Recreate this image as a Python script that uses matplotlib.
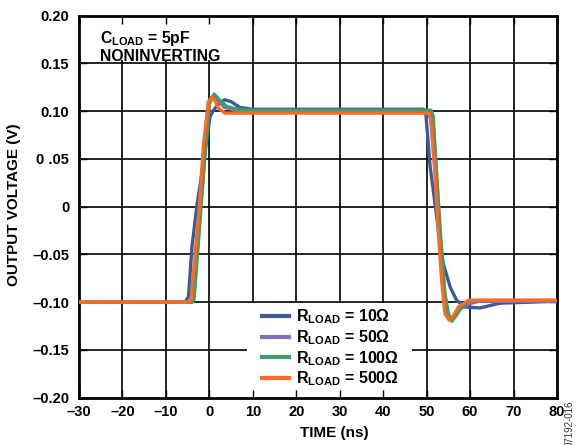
import matplotlib
matplotlib.use('Agg')
import matplotlib.pyplot as plt
from matplotlib.patches import Rectangle

plt.rcParams['font.family'] = ['Liberation Sans', 'DejaVu Sans']
plt.rcParams['font.weight'] = 'bold'
plt.rcParams['mathtext.fontset'] = 'custom'
plt.rcParams['mathtext.rm'] = 'Liberation Sans:bold'
plt.rcParams['mathtext.it'] = 'Liberation Sans:bold'
plt.rcParams['mathtext.bf'] = 'Liberation Sans:bold'

# traces (time in ns, volts)
t_10 = [-30, -5.6, -4.8, -4.0, -2.9, -1.4, -0.6, 0.15, 0.8, 2.0, 3.5, 5.0, 7.0, 10, 49.4,
        49.8, 50.8, 51.5, 52.7, 53.8, 55.4, 56.9, 58.8, 62.3, 66.9, 80]
v_10 = [-0.100, -0.100, -0.094, -0.042, 0.000, 0.045, 0.070, 0.094, 0.100, 0.107, 0.112, 0.110, 0.104, 0.102, 0.102,
        0.098, 0.042, 0.018, -0.024, -0.059, -0.084, -0.098, -0.105, -0.106, -0.101, -0.099]

t_50 = [-30, -4.0, -3.6, -2.0, -1.0, -0.1, 0.9, 2.0, 3.5, 6.0, 10, 50.9,
        51.4, 52.3, 53.2, 54.1, 54.8, 55.6, 56.5, 57.8, 59.5, 62.0, 80]
v_50 = [-0.100, -0.100, -0.096, 0.000, 0.060, 0.108, 0.116, 0.111, 0.104, 0.101, 0.100, 0.100,
        0.094, 0.030, -0.035, -0.090, -0.112, -0.117, -0.113, -0.107, -0.102, -0.099, -0.099]

t_100 = [-30, -3.9, -3.5, -1.9, -0.9, 0.0, 1.1, 2.3, 4.0, 6.5, 10, 51.0,
         51.5, 52.3, 53.2, 54.2, 55.0, 55.8, 56.8, 58.0, 59.7, 62.0, 80]
v_100 = [-0.100, -0.100, -0.096, 0.000, 0.060, 0.108, 0.118, 0.112, 0.105, 0.102, 0.101, 0.101,
         0.095, 0.035, -0.030, -0.090, -0.112, -0.120, -0.114, -0.105, -0.099, -0.098, -0.098]

t_500 = [-30, -4.6, -4.2, -2.3, -1.4, -0.24, 0.54, 1.3, 2.1, 3.6, 10, 50.4,
         50.9, 51.9, 52.7, 53.5, 54.2, 55.2, 56.2, 57.3, 59.6, 62.0, 80]
v_500 = [-0.100, -0.100, -0.096, 0.000, 0.063, 0.110, 0.115, 0.111, 0.103, 0.098, 0.098, 0.098,
         0.092, 0.035, -0.028, -0.080, -0.112, -0.119, -0.114, -0.105, -0.098, -0.098, -0.098]

labels = [r'$\mathrm{R_{LOAD}}$ = 10Ω', r'$\mathrm{R_{LOAD}}$ = 50Ω',
          r'$\mathrm{R_{LOAD}}$ = 100Ω', r'$\mathrm{R_{LOAD}}$ = 500Ω']
colors = ['#3d5a98', '#8a6cb8', '#3e9e6e', '#ff6a21']

x_ticks = [-30, -20, -10, 0, 10, 20, 30, 40, 50, 60, 70, 80]
x_ticklabels = ['–30', '–20', '–10', '0', '10', '20', '30', '40', '50', '60', '70', '80']
y_ticks = [-0.20, -0.15, -0.10, -0.05, 0, 0.05, 0.10, 0.15, 0.20]
y_ticklabels = ['–0.20', '–0.15', '–0.10', '–0.05', '0', '0 .05', '0.10', '0.15', '0.20']

fig = plt.figure(figsize=(5.82, 4.45), dpi=100)
ax = fig.add_axes([79 / 582, 1 - 397.7 / 445, 478 / 582, 382 / 445])

for x in x_ticks[1:-1]:
    ax.axvline(x, color='black', lw=1.2, zorder=1)
for y in y_ticks[1:-1]:
    ax.axhline(y, color='black', lw=1.2, zorder=1)

series = [(t_10, v_10), (t_50, v_50), (t_100, v_100), (t_500, v_500)]
for (t, v), lab, c in zip(series, labels, colors):
    ax.plot(t, v, color=c, lw=2.4, label=lab, zorder=3, solid_joinstyle='round')

ax.set_xlim(-30, 80)
ax.set_ylim(-0.20, 0.20)
ax.set_xticks(x_ticks)
ax.set_xticklabels(x_ticklabels)
ax.set_yticks(y_ticks)
ax.set_yticklabels(y_ticklabels)
ax.tick_params(direction='in', length=6, width=1, top=True, right=True, labelsize=10.5, color='black')
ax.tick_params(axis='x', pad=5)
ax.tick_params(axis='y', pad=7)
ax.set_axisbelow(False)
for s in ax.spines.values():
    s.set_linewidth(2)

# white boxes under the annotation and the legend
ax.add_patch(Rectangle((0.0335, 0.884), 0.276, 0.12, transform=ax.transAxes,
                       facecolor='white', edgecolor='none', zorder=2))
ax.add_patch(Rectangle((0.351, 0.0), 0.346, 0.248, transform=ax.transAxes,
                       facecolor='white', edgecolor='none', zorder=2))

ax.text(0.044, 0.965, r'$\mathrm{C_{LOAD}}$ = 5pF' + '\nNONINVERTING', transform=ax.transAxes,
        fontsize=11.3, fontweight='bold', va='top', ha='left', linespacing=1.05, zorder=4)

leg = ax.legend(loc='upper left', bbox_to_anchor=(0.38, 0.24), frameon=False, fontsize=11.5,
                handlelength=1.7, handletextpad=0.4, labelspacing=0.12, borderpad=0.1,
                borderaxespad=0)
leg.set_zorder(2)
for line in leg.get_lines():
    line.set_linewidth(3)

fig.text(334 / 582, 1 - 432.7 / 445, 'TIME (ns)', fontsize=11, fontweight='bold',
         ha='center', va='center')
fig.text(14 / 582, 1 - 205 / 445, 'OUTPUT VOLTAGE (V)', fontsize=11, fontweight='bold',
         ha='center', va='center', rotation=90)

fig.text(0.979, -0.004, '07192-016', rotation=90, fontsize=7, fontweight='normal',
         color='#333333', ha='center', va='bottom')

fig.savefig('out.png', dpi=100)
